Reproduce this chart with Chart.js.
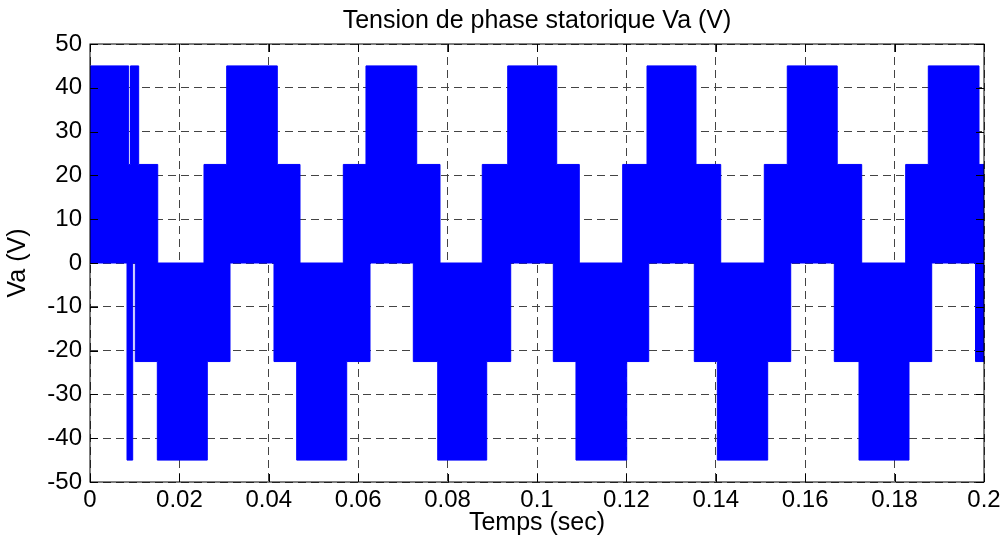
<!DOCTYPE html>
<html>
<head>
<meta charset="utf-8">
<script src="https://cdn.jsdelivr.net/npm/chart.js@4/dist/chart.umd.min.js"></script>
<style>
  body { margin: 0; background: #fff; }
  canvas { display: block; }
</style>
</head>
<body>
<canvas id="va" width="1008" height="543"></canvas>
<script>
// envelope of the PWM phase voltage (step starts, last point closes at 0.2 s)
const upperTimes = [0, 0.00866, 0.00906, 0.01089, 0.01515, 0.02550, 0.03058, 0.04190, 0.04698, 0.05667,
  0.06174, 0.07309, 0.07830, 0.08776, 0.09345, 0.10441, 0.10946, 0.11917, 0.12461, 0.13557,
  0.14110, 0.15085, 0.15599, 0.16716, 0.17264, 0.18248, 0.18754, 0.19888, 0.2];
const upperLevels = [45, 22.5, 45, 22.5, 0, 22.5, 45, 22.5, 0, 22.5,
  45, 22.5, 0, 22.5, 45, 22.5, 0, 22.5, 45, 22.5,
  0, 22.5, 45, 22.5, 0, 22.5, 45, 22.5, 22.5];

const lowerTimes = [0, 0.00828, 0.00955, 0.01013, 0.01506, 0.02624, 0.03132, 0.04116, 0.04624, 0.05743,
  0.06264, 0.07233, 0.07779, 0.08875, 0.09412, 0.10365, 0.10872, 0.12007, 0.12499, 0.13519,
  0.14034, 0.15161, 0.15676, 0.16651, 0.17204, 0.18322, 0.18830, 0.19810, 0.2];
const lowerLevels = [0, -45, 0, -22.5, -45, -22.5, 0, -22.5, -45, -22.5,
  0, -22.5, -45, -22.5, 0, -22.5, -45, -22.5, 0, -22.5,
  -45, -22.5, 0, -22.5, -45, -22.5, 0, -22.5, -22.5];

const xTicks = [0, 0.02, 0.04, 0.06, 0.08, 0.1, 0.12, 0.14, 0.16, 0.18, 0.2];
const xTickLabels = ['0', '0.02', '0.04', '0.06', '0.08', '0.1', '0.12', '0.14', '0.16', '0.18', '0.2'];
const yTicks = [-50, -40, -30, -20, -10, 0, 10, 20, 30, 40, 50];
const yTickLabels = ['-50', '-40', '-30', '-20', '-10', '0', '10', '20', '30', '40', '50'];

const BLUE = '#0000ff';
const FONT = '"Liberation Sans", Arial, sans-serif';

Chart.defaults.font.family = FONT;
Chart.defaults.color = '#000';

function pts(ts, vs) {
  return ts.map((t, i) => ({ x: t, y: vs[i] }));
}

// box round the axes with inward ticks, drawn over the data like matlab does
const frame = {
  id: 'frame',
  afterDatasetsDraw(chart) {
    const { ctx, chartArea: a, scales: { x, y } } = chart;
    const len = 8;
    ctx.save();
    ctx.strokeStyle = '#000';
    ctx.lineWidth = 1;
    ctx.strokeRect(a.left, a.top, a.right - a.left, a.bottom - a.top);
    ctx.beginPath();
    xTicks.forEach(v => {
      const px = Math.round(x.getPixelForValue(v)) + 0.5;
      ctx.moveTo(px, a.bottom); ctx.lineTo(px, a.bottom - len);
      ctx.moveTo(px, a.top); ctx.lineTo(px, a.top + len);
    });
    yTicks.forEach(v => {
      const py = Math.round(y.getPixelForValue(v)) + 0.5;
      ctx.moveTo(a.left, py); ctx.lineTo(a.left + len, py);
      ctx.moveTo(a.right, py); ctx.lineTo(a.right - len, py);
    });
    ctx.stroke();
    ctx.restore();
  }
};

new Chart(document.getElementById('va'), {
  type: 'line',
  data: {
    datasets: [
      { data: pts(upperTimes, upperLevels), stepped: 'before', fill: 'origin',
        borderColor: BLUE, backgroundColor: BLUE, borderWidth: 1, pointRadius: 0 },
      { data: pts(lowerTimes, lowerLevels), stepped: 'before', fill: 'origin',
        borderColor: BLUE, backgroundColor: BLUE, borderWidth: 1, pointRadius: 0 }
    ]
  },
  options: {
    responsive: false,
    animation: false,
    layout: { padding: { left: 0, right: 24, top: 0, bottom: 0 } },
    plugins: {
      legend: { display: false },
      tooltip: { enabled: false },
      title: {
        display: true,
        fullSize: false,
        text: 'Tension de phase statorique Va (V)',
        font: { size: 25, weight: 'normal', lineHeight: 1.2 },
        padding: { top: 6, bottom: 8 }
      }
    },
    scales: {
      x: {
        type: 'linear', min: 0, max: 0.2,
        afterBuildTicks: s => { s.ticks = xTicks.map(v => ({ value: v })); },
        afterFit: s => { s.height = 61; },
        ticks: { callback: (v, i) => xTickLabels[i], autoSkip: false, maxRotation: 0,
                 font: { size: 24 }, padding: 4 },
        grid: { color: '#444', lineWidth: 1, drawTicks: false },
        border: { display: false, dash: [8, 5] },
        title: { display: true, text: 'Temps (sec)', font: { size: 25 }, padding: { top: 0, bottom: 5 } }
      },
      y: {
        type: 'linear', min: -50, max: 50,
        afterBuildTicks: s => { s.ticks = yTicks.map(v => ({ value: v })); },
        afterFit: s => { s.width = 90; },
        ticks: { callback: (v, i) => yTickLabels[i], autoSkip: false, font: { size: 24 }, padding: 8 },
        grid: { color: '#444', lineWidth: 1, drawTicks: false },
        border: { display: false, dash: [8, 5] },
        title: { display: true, text: 'Va (V)', font: { size: 25 }, padding: { top: 3, bottom: 0 } }
      }
    }
  },
  plugins: [frame]
});
</script>
</body>
</html>
